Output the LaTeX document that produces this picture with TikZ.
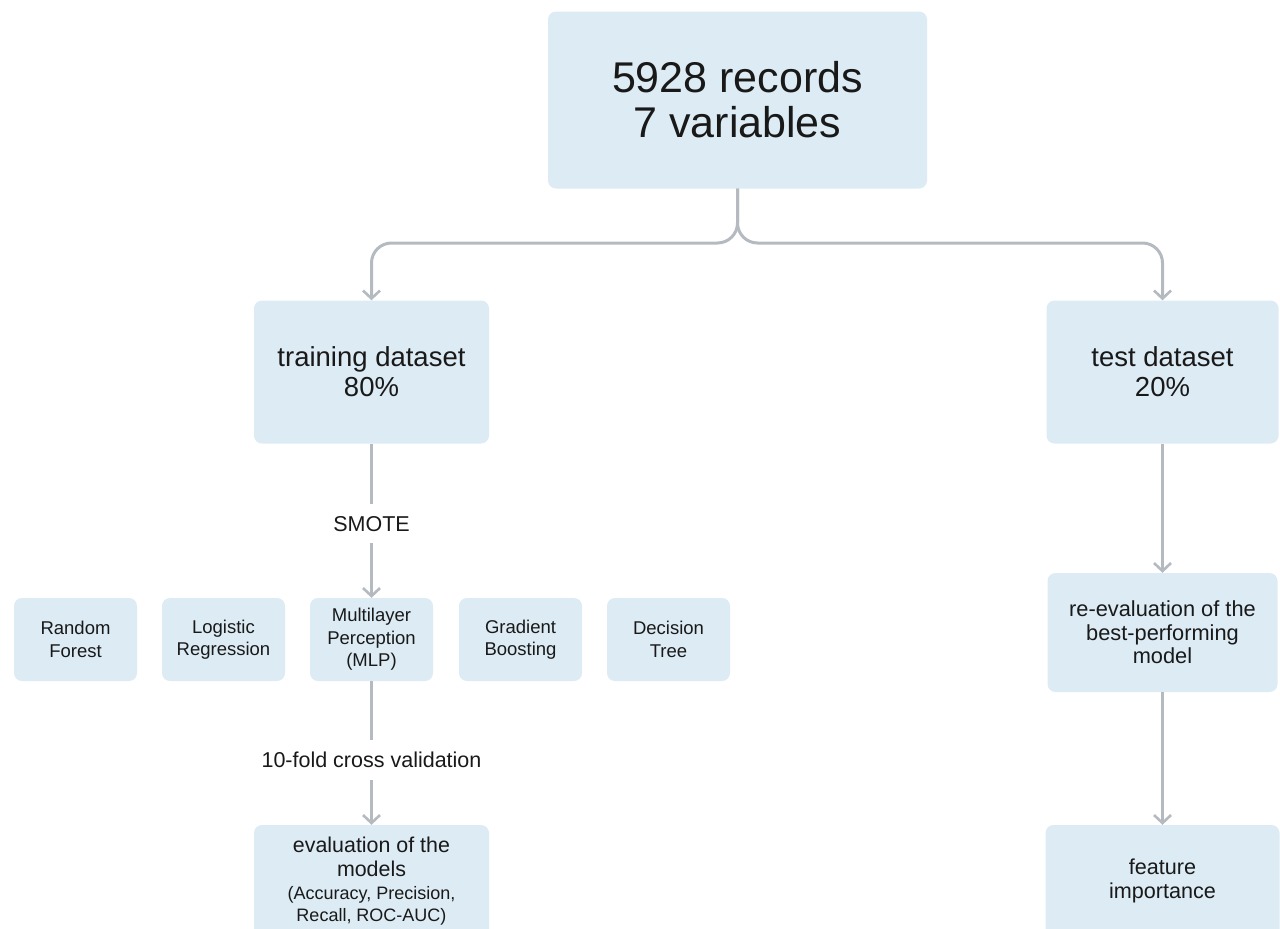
\documentclass[tikz,border=0pt]{standalone}
\usepackage{fontspec}
\setmainfont{Liberation Sans}
\usetikzlibrary{arrows.meta}
\definecolor{boxfill}{RGB}{220,235,244}
\definecolor{linegray}{RGB}{180,186,192}
\newcommand{\fs}[2]{\fontsize{#1pt}{#2pt}\selectfont}
\begin{document}
\begin{tikzpicture}[x=1pt,y=-1pt,
  box/.style={fill=boxfill,draw=none,rounded corners=8pt,inner sep=0pt,align=center,text=black!90},
  small/.style={box,minimum width=123pt,minimum height=83pt,font=\fs{18.5}{22.5}},
  conn/.style={draw=linegray,line width=3pt,-{Straight Barb[length=8pt,width=17pt,line width=2.6pt]}},
  lbl/.style={fill=white,inner xsep=3pt,inner ysep=12pt,text=black!90,font=\fs{21.5}{24}}]
\useasboundingbox (0,0) rectangle (1280,929);
\clip (0,0) rectangle (1280,929);
% boxes
\node[box,minimum width=379pt,minimum height=177pt,font=\fs{43}{45}] (top) at (737.5,100) {5928 records\\7 variables};
\node[box,minimum width=235pt,minimum height=143pt,font=\fs{27.5}{30}] (train) at (371.5,372) {training dataset\\80\%};
\node[box,minimum width=232pt,minimum height=143pt,font=\fs{27.5}{30}] (test) at (1162.5,372) {test dataset\\20\%};
\node[small] (rf) at (75.5,639.5) {Random\\Forest};
\node[small] (lr) at (223.5,639.5) {Logistic\\Regression};
\node[small] (mlp) at (371.5,639.5) {Multilayer\\Perception\\(MLP)};
\node[small] (gb) at (520.5,639.5) {Gradient\\Boosting};
\node[small] (dt) at (668.5,639.5) {Decision\\Tree};
\node[box,minimum width=235pt,minimum height=112pt,font=\fs{21.4}{24.5}] (eval) at (371.5,881) {evaluation of the\\models\\[-2pt]{\fs{18}{22}(Accuracy, Precision,}\\[-2pt]{\fs{18}{22}Recall, ROC-AUC)}};
\node[box,minimum width=230pt,minimum height=119pt,font=\fs{21.8}{23.5}] (reeval) at (1162.5,632.5) {\\[-8pt]re-evaluation of the\\best-performing\\model};
\node[box,minimum width=234pt,minimum height=112pt,font=\fs{21.6}{24}] (feat) at (1162.5,881) {feature\\importance};
% connectors
\draw[conn,rounded corners=20pt] (top.south) -- (737.5,243) -- (371.5,243) -- (train.north);
\draw[conn,rounded corners=20pt] (top.south) -- (737.5,243) -- (1162.5,243) -- (test.north);
\draw[conn] (train.south) -- node[lbl,pos=0.52]{SMOTE} (mlp.north);
\draw[conn] (mlp.south) -- node[lbl,pos=0.55]{10-fold cross validation} (eval.north);
\draw[conn] (test.south) -- (reeval.north);
\draw[conn] (reeval.south) -- (feat.north);
\end{tikzpicture}
\end{document}
